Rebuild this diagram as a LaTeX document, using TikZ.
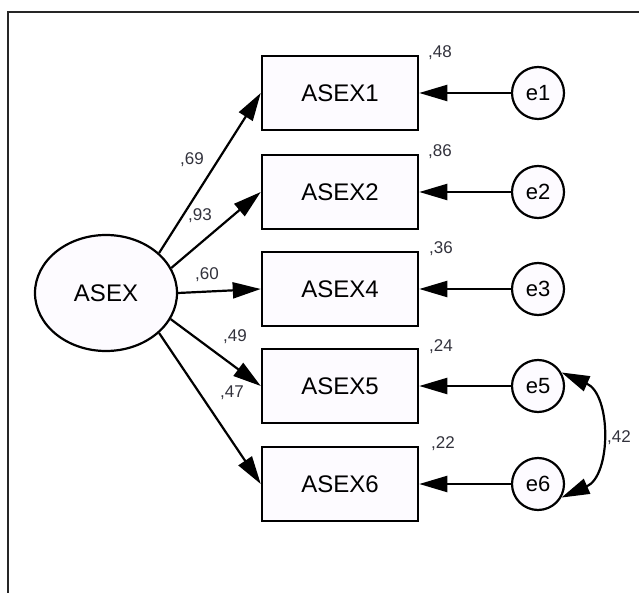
\documentclass[tikz,border=0pt]{standalone}
\usepackage{fontspec}
\setmainfont{Liberation Sans}
\usetikzlibrary{arrows.meta,shapes.geometric,calc}
\definecolor{boxfill}{RGB}{253,251,255}
\definecolor{lblcol}{RGB}{50,50,60}
\begin{document}
\begin{tikzpicture}[x=1pt,y=-1pt,
  obs/.style={draw,line width=2.5pt,minimum width=156pt,minimum height=74pt,inner sep=0pt,fill=boxfill,font=\fontsize{24}{28}\selectfont},
  lat/.style={draw,ellipse,line width=2.2pt,minimum width=142pt,minimum height=116pt,inner sep=0pt,fill=boxfill,font=\fontsize{24}{28}\selectfont},
  err/.style={draw,circle,line width=2.2pt,minimum size=52pt,inner sep=0pt,fill=boxfill,font=\fontsize{22}{26}\selectfont},
  lbl/.style={font=\fontsize{17}{19}\selectfont,text=lblcol,inner sep=0pt},
  tipA/.tip={Triangle[length=28pt,width=16pt]},
  load/.style={line width=2.2pt,-tipA},
  cov/.style={line width=2.2pt,tipA-tipA},
  framestyle/.style={line width=1.5pt,draw=black!85}]
\useasboundingbox (0,0) rectangle (639,593);
\draw[framestyle] (639,12) -- (8,12) -- (8,593);

\node[lat] (asex) at (106,293) {ASEX};

\node[obs] (b1) at (340,93) {ASEX1};
\node[obs] (b2) at (340,192) {ASEX2};
\node[obs] (b4) at (340,289) {ASEX4};
\node[obs] (b5) at (340,386) {ASEX5};
\node[obs] (b6) at (340,484) {ASEX6};

\node[err] (e1) at (538,93) {e1};
\node[err] (e2) at (538,192) {e2};
\node[err] (e3) at (538,289) {e3};
\node[err] (e5) at (538,386) {e5};
\node[err] (e6) at (538,484) {e6};

\draw[load] (asex.37) -- (b1.west);
\draw[load] (asex.21) -- (b2.west);
\draw[load] (asex.0) -- (b4.west);
\draw[load] (asex.-22) -- (b5.west);
\draw[load] (asex.-37) -- (b6.west);

\draw[load] (e1) -- (b1.east);
\draw[load] (e2) -- (b2.east);
\draw[load] (e3) -- (b4.east);
\draw[load] (e5) -- (b5.east);
\draw[load] (e6) -- (b6.east);

\draw[cov] (e5.30) .. controls ($(e5.30)+(50,22)$) and ($(e6.-30)+(50,-22)$) .. (e6.-30);

\node[lbl] (l69) at (192,160) {,69};
\node[lbl] (l93) at (200,216) {,93};
\node[lbl] (l60) at (207,275) {,60};
\node[lbl] (l49) at (235,337) {,49};
\node[lbl] (l47) at (232,393) {,47};

\node[lbl] (r1) at (440,53) {,48};
\node[lbl] (r2) at (440,152) {,86};
\node[lbl] (r4) at (441,249) {,36};
\node[lbl] (r5) at (441,347) {,24};
\node[lbl] (r6) at (443,444) {,22};
\node[lbl] (c56) at (619,438) {,42};
\end{tikzpicture}
\end{document}
